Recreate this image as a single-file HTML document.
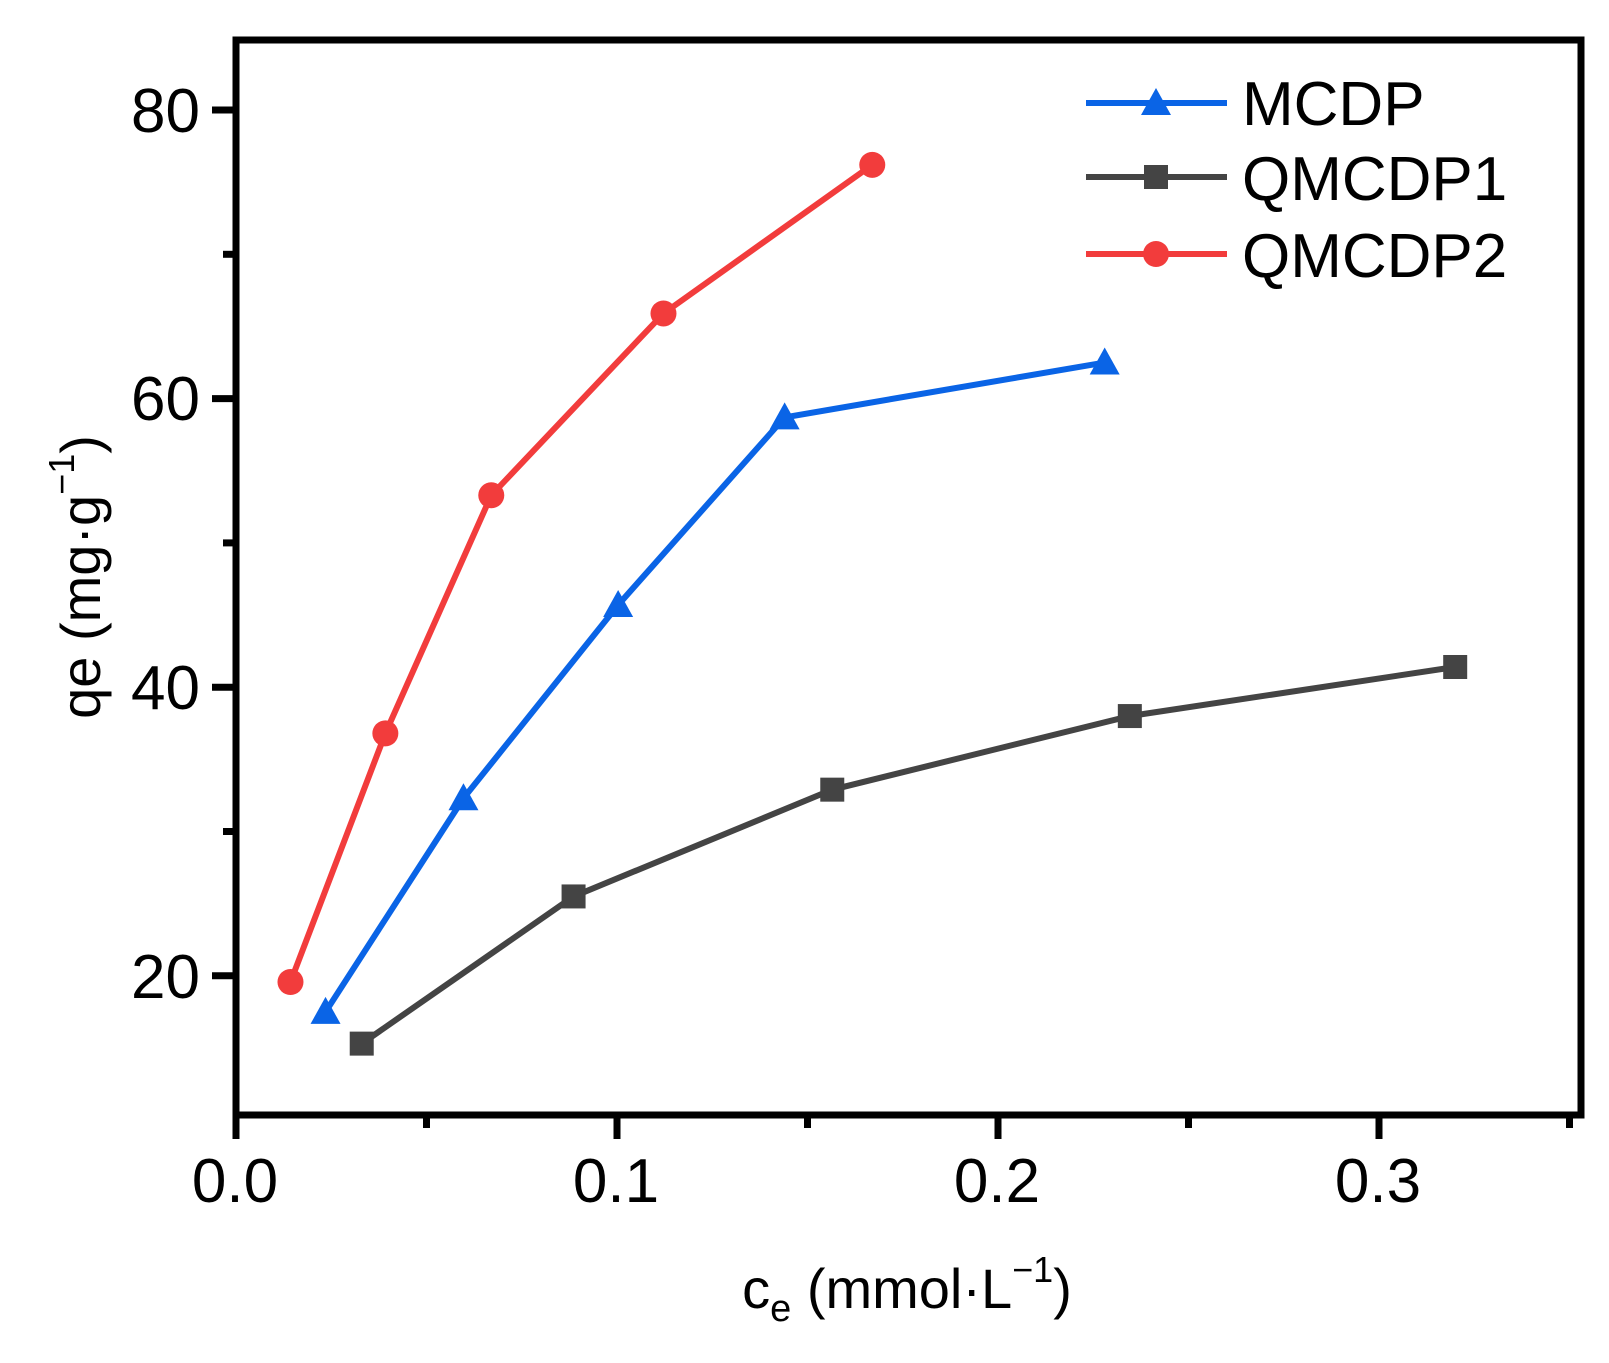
<!DOCTYPE html>
<html><head><meta charset="utf-8"><style>body{margin:0;background:#fff}svg{display:block}text{font-family:"Liberation Sans",Arial,sans-serif;fill:#000}</style></head>
<body>
<svg id="s" width="1609" height="1363" viewBox="0 0 1609 1363" xmlns="http://www.w3.org/2000/svg">
<rect width="1609" height="1363" fill="#fff"/>
<g id="plot"></g>
<rect x="236" y="40" width="1345" height="1075" fill="none" stroke="#000" stroke-width="7"/>
<g id="ticks" stroke="#000" stroke-width="7"></g>
<g font-size="62" text-anchor="end">
<text x="200" y="132">80</text><text x="200" y="420">60</text><text x="200" y="709">40</text><text x="200" y="998">20</text>
</g>
<g font-size="62" text-anchor="middle">
<text x="235" y="1202">0.0</text><text x="616" y="1202">0.1</text><text x="997" y="1202">0.2</text><text x="1378" y="1202">0.3</text>
</g>
<text x="907" y="1308" font-size="56" text-anchor="middle">c<tspan font-size="38" dy="13">e</tspan><tspan dy="-13"> (mmol·L</tspan><tspan font-size="36" dy="-26">−1</tspan><tspan dy="26">)</tspan></text>
<text transform="translate(100,577) rotate(-90)" font-size="56" text-anchor="middle">qe (mg·g<tspan font-size="36" dy="-26">−1</tspan><tspan dy="26">)</tspan></text>
<g font-size="62">
<text x="1242" y="125">MCDP</text><text x="1242" y="200">QMCDP1</text><text x="1242" y="277">QMCDP2</text>
</g>
<g id="leg"></g>
</svg>
<script>
const X=v=>236+v*3810, Y=v=>110+(80-v)*14.43;
const ns="http://www.w3.org/2000/svg";
function el(p,t,a){const e=document.createElementNS(ns,t);for(const k in a)e.setAttribute(k,a[k]);p.appendChild(e);return e;}
const T=document.getElementById('ticks');
[20,40,60,80].forEach(v=>el(T,'line',{x1:212,x2:236,y1:Y(v),y2:Y(v)}));
[30,50,70].forEach(v=>el(T,'line',{x1:223,x2:236,y1:Y(v),y2:Y(v)}));
[0,0.1,0.2,0.3].forEach(v=>el(T,'line',{x1:X(v),x2:X(v),y1:1115,y2:1139}));
[0.05,0.15,0.25,0.35].forEach(v=>el(T,'line',{x1:X(v),x2:X(v),y1:1115,y2:1128}));
const series=[
 {c:'#0a64e6',m:'tri',d:[[0.0235,17.5],[0.0597,32.3],[0.1003,45.7],[0.144,58.7],[0.228,62.5]]},
 {c:'#444444',m:'sq',d:[[0.033,15.3],[0.0886,25.5],[0.1565,32.9],[0.2346,38.0],[0.32,41.4]]},
 {c:'#f23c3c',m:'ci',d:[[0.0143,19.57],[0.0392,36.8],[0.067,53.3],[0.1122,65.9],[0.167,76.2]]}];
const P=document.getElementById('plot'),L=document.getElementById('leg');
function mk(g,m,x,y,c){
 if(m=='tri')el(g,'polygon',{points:`${x},${y-15} ${x-15},${y+12} ${x+15},${y+12}`,fill:c});
 else if(m=='sq')el(g,'rect',{x:x-12,y:y-12,width:24,height:24,fill:c});
 else el(g,'circle',{cx:x,cy:y,r:13,fill:c});
}
const ly=[103,177,254];
series.forEach((s,i)=>{
 el(P,'polyline',{points:s.d.map(p=>X(p[0])+','+Y(p[1])).join(' '),fill:'none',stroke:s.c,'stroke-width':6});
 s.d.forEach(p=>mk(P,s.m,X(p[0]),Y(p[1]),s.c));
 el(L,'line',{x1:1086,x2:1227,y1:ly[i],y2:ly[i],stroke:s.c,'stroke-width':6});
 mk(L,s.m,1156,ly[i],s.c);
});
</script>
</body></html>
